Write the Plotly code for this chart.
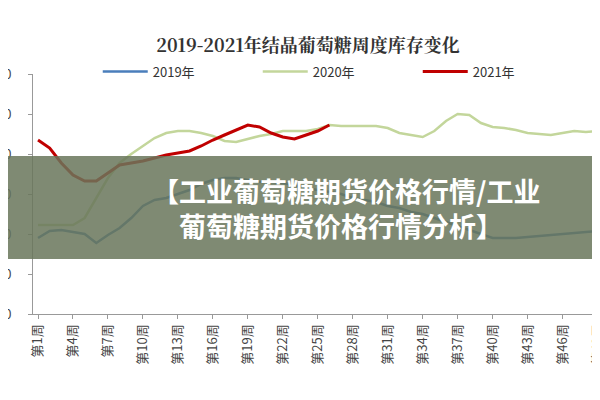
import plotly.graph_objects as go

weeks = list(range(1, 51))
y2019 = [19, 20.75, 21, 20.5, 20, 17.75, 19.75, 21.5, 24, 27, 28.5, 29, 30, 31, 32.5, 33.5, 34, 34, 33.5, 33,
         33, 32.75, 32.25, 31.5, 31, 30.5, 30, 29, 28.5, 28, 27, 26.5, 25.5, 25, 24, 23, 22, 21, 20, 19,
         19, 19, 19.25, 19.5, 19.75, 20, 20.25, 20.5, 20.75, 21]
y2020 = [22.25, 22.25, 22.25, 22.25, 24, 29, 34, 37.75, 40, 42, 44, 45.25, 45.75, 45.75, 45.25, 44.5, 43.25, 43, 43.75, 44.5,
         45, 45.75, 45.75, 45.75, 46.25, 47.25, 47, 47, 47, 47, 46.5, 45.25, 44.75, 44.25, 45.75, 48.25, 50, 49.75, 47.75, 46.75,
         46.5, 46, 45.25, 45, 44.75, 45.25, 45.75, 45.5, 45.75, 46]
y2021 = [43.5, 41.5, 37.75, 34.75, 33.25, 33.25, 35.25, 37.25, 37.75, 38.25, 39, 39.75, 40.25, 40.75, 42, 43.5, 44.75, 46, 47.25, 46.75,
         45.25, 44.25, 43.75, 44.75, 45.75, 47.25]
tick_weeks = list(range(1, 51, 3))
tick_text = [f"第{w}周" for w in tick_weeks]
y_ticks = [0, 10, 20, 30, 40, 50, 60]

fig = go.Figure()
fig.add_trace(go.Scatter(x=weeks, y=y2019, name="2019年", mode="lines", line=dict(color="#4a7ebb", width=2.5)))
fig.add_trace(go.Scatter(x=weeks, y=y2020, name="2020年", mode="lines", line=dict(color="#c3d69b", width=2.5)))
fig.add_trace(go.Scatter(x=weeks[:len(y2021)], y=y2021, name="2021年", mode="lines", line=dict(color="#c00000", width=3)))

fig.update_layout(
    width=600, height=400, paper_bgcolor="white", plot_bgcolor="white",
    margin=dict(l=25, r=0, t=66, b=94, autoexpand=False),
    font=dict(family="Noto Sans CJK SC", color="#333"),
    title=dict(text="<b>2019-2021年结晶葡萄糖周度库存变化</b>", x=0.5, xanchor="center", y=0.905, yanchor="middle",
               font=dict(size=18, family="Noto Serif CJK SC, Noto Sans CJK SC", color="#333")),
    legend=dict(orientation="h", x=0.53, xanchor="center", y=1.01, yanchor="middle", font=dict(size=13),
                bgcolor="rgba(0,0,0,0)", itemwidth=45, entrywidth=100),
    showlegend=True,
)
fig.update_xaxes(range=[0.57, 49.9], tickvals=tick_weeks, ticktext=tick_text, tickangle=-90,
                 showline=True, linecolor="#999", ticks="outside", ticklen=4, tickcolor="#999",
                 showgrid=False, tickfont=dict(size=13, color="#444"), automargin=False)
fig.update_yaxes(range=[0, 60], tickvals=y_ticks, showline=True, linecolor="#999", ticks="outside",
                 ticklen=4, tickcolor="#999", showgrid=False, tickfont=dict(size=13, color="#444"),
                 automargin=False, ticklabelstandoff=14)

fig.add_shape(type="rect", xref="paper", yref="paper", x0=-0.05, x1=1.0, y0=(306-251)/240, y1=(306-148)/240,
              fillcolor="rgba(105,117,90,0.85)", line=dict(width=0), layer="above")
fig.add_annotation(xref="paper", yref="paper", x=0.545, y=(306-200)/240, showarrow=False, align="left",
                   text="<b>【工业葡萄糖期货价格行情/工业<br>　葡萄糖期货价格行情分析】</b>",
                   font=dict(size=27, color="white", family="Noto Sans CJK SC"))
fig.write_html("out.html")
